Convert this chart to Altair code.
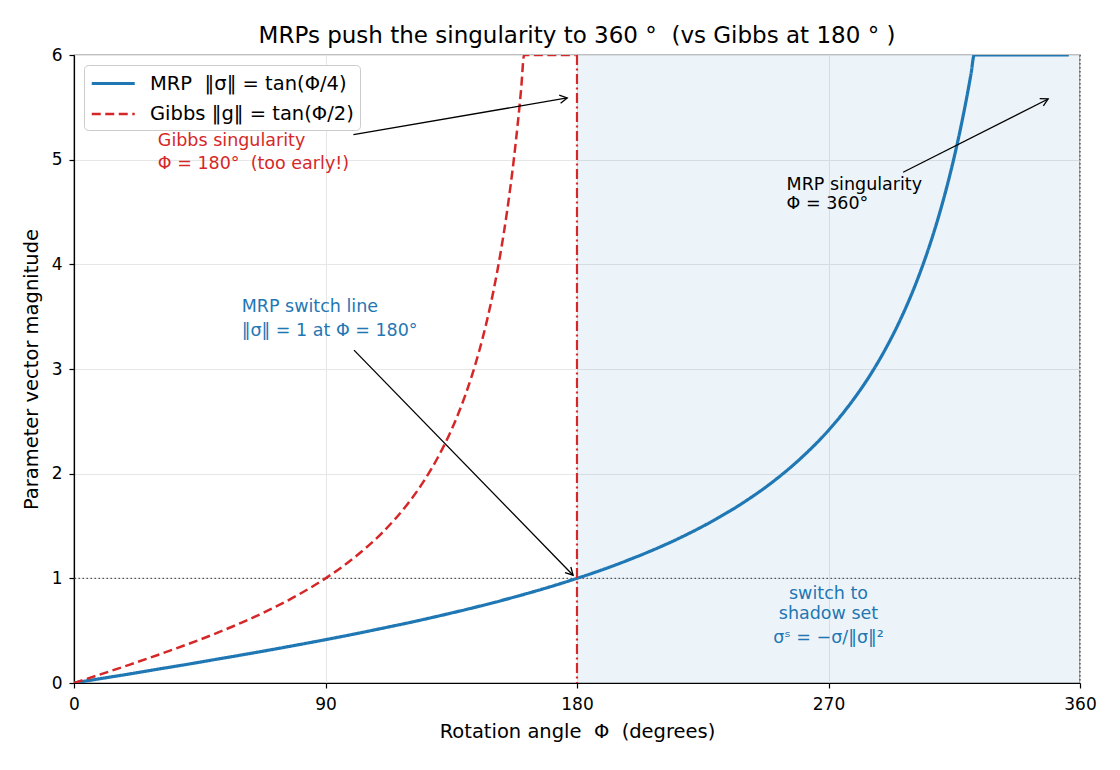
import math
import altair as alt
import pandas as pd

# ---- data -------------------------------------------------------------
# MRP magnitude |sigma| = tan(phi/4), clipped at the top of the axis (6)
mrp_phi = [0, 10, 20, 30, 40, 50, 60, 70, 80, 90, 100, 110, 120, 130, 140, 150,
           160, 170, 180, 190, 200, 210, 220, 230, 240, 250, 260, 270, 275, 280,
           285, 290, 295, 297.5, 300, 302.5, 305, 307.5, 310, 312.5, 315, 317.5,
           320, 321, 322.15, 356]
mrp_mag = [0.000, 0.044, 0.087, 0.132, 0.176, 0.222, 0.268, 0.315, 0.364, 0.414,
           0.466, 0.521, 0.577, 0.637, 0.700, 0.767, 0.839, 0.916, 1.000, 1.091,
           1.192, 1.303, 1.428, 1.570, 1.732, 1.921, 2.145, 2.414, 2.572, 2.748,
           2.946, 3.172, 3.431, 3.576, 3.732, 3.902, 4.087, 4.289, 4.511, 4.756,
           5.027, 5.330, 5.671, 5.820, 6.000, 6.000]

# Gibbs magnitude |g| = tan(phi/2), clipped at 6
gibbs_phi = [0, 10, 20, 30, 40, 50, 60, 70, 80, 90, 100, 110, 120, 125, 130, 135,
             137.5, 140, 142.5, 145, 147.5, 150, 152.5, 155, 157.5, 160, 161.08, 179.5]
gibbs_mag = [0.000, 0.087, 0.176, 0.268, 0.364, 0.466, 0.577, 0.700, 0.839, 1.000,
             1.192, 1.428, 1.732, 1.921, 2.145, 2.414, 2.572, 2.748, 2.946, 3.172,
             3.431, 3.732, 4.087, 4.511, 5.027, 5.671, 6.000, 6.000]

NB = "\u00a0"
MRP_LABEL = f"MRP{NB}{NB}\u2016\u03c3\u2016 = tan(\u03a6/4)"
GIBBS_LABEL = "Gibbs \u2016g\u2016 = tan(\u03a6/2)"

x_ticks = [0, 90, 180, 270, 360]
y_ticks = [0, 1, 2, 3, 4, 5, 6]

# annotation text lines: x, y, text, colour
ann_left = pd.DataFrame({
    "x": [30, 30, 255, 255, 60, 60],
    "y": [5.18, 4.96, 4.76, 4.58, 3.59, 3.36],
    "text": ["Gibbs singularity", f"\u03a6 = 180\u00b0{NB}{NB}(too early!)",
             "MRP singularity", "\u03a6 = 360\u00b0",
             "MRP switch line", "\u2016\u03c3\u2016 = 1 at \u03a6 = 180\u00b0"],
    "color": ["#d62728", "#d62728", "#000000", "#000000", "#1f77b4", "#1f77b4"],
})
ann_center = pd.DataFrame({
    "x": [270, 270, 270],
    "y": [0.85, 0.66, 0.43],
    "text": ["switch to", "shadow set", "\u03c3\u02e2 = \u2212\u03c3/\u2016\u03c3\u2016\u00b2"],
    "color": ["#1f77b4", "#1f77b4", "#1f77b4"],
})

# arrows: tail (x, y) -> head (x2, y2)
arrow_x = [100.0, 296.7, 100.2]
arrow_y = [5.24, 4.88, 3.18]
arrow_x2 = [176.5, 348.6, 178.6]
arrow_y2 = [5.59, 5.58, 1.03]

# ---- layout -----------------------------------------------------------
W, H = 1006, 628
FONT = "DejaVu Sans"

px_deg = W / 360.0
px_unit = H / 6.0
angles = [math.degrees(math.atan2((x2 - x1) * px_deg, (y2 - y1) * px_unit)) % 360
          for x1, y1, x2, y2 in zip(arrow_x, arrow_y, arrow_x2, arrow_y2)]
arrows = pd.DataFrame({"x": arrow_x, "y": arrow_y, "x2": arrow_x2,
                       "y2": arrow_y2, "angle": angles})

curves = pd.concat([
    pd.DataFrame({"phi": mrp_phi, "mag": mrp_mag, "series": MRP_LABEL, "order": range(len(mrp_phi))}),
    pd.DataFrame({"phi": gibbs_phi, "mag": gibbs_mag, "series": GIBBS_LABEL, "order": range(len(gibbs_phi))}),
])

xscale = alt.Scale(domain=[0, 360], nice=False, zero=False)
yscale = alt.Scale(domain=[0, 6], nice=False)

xenc = alt.X("phi:Q", scale=xscale,
             axis=alt.Axis(values=x_ticks, title=f"Rotation angle{NB}{NB}\u03a6{NB}{NB}(degrees)", format="d"))
yenc = alt.Y("mag:Q", scale=yscale,
             axis=alt.Axis(values=y_ticks, title="Parameter vector magnitude", format="d"))

shade = alt.Chart(pd.DataFrame({"phi": [180], "phi2": [360], "mag": [0], "mag2": [6]})).mark_rect(
    color="#1f77b4", opacity=0.08
).encode(x=xenc, x2="phi2:Q", y=yenc, y2="mag2:Q")

hline = alt.Chart(pd.DataFrame({"mag": [1]})).mark_rule(
    color="#555555", strokeDash=[1.5, 2.5], strokeWidth=1.1
).encode(y=alt.Y("mag:Q", scale=yscale))

vline360 = alt.Chart(pd.DataFrame({"phi": [360]})).mark_rule(
    color="#333333", strokeDash=[1.5, 2.5], strokeWidth=1.1
).encode(x=alt.X("phi:Q", scale=xscale))

lines = alt.Chart(curves).mark_line(interpolate="monotone", clip=True).encode(
    x=xenc, y=yenc, order="order:Q",
    color=alt.Color("series:N",
                    scale=alt.Scale(domain=[MRP_LABEL, GIBBS_LABEL], range=["#1f77b4", "#d62728"]),
                    legend=alt.Legend(title=None)),
    strokeDash=alt.StrokeDash("series:N",
                              scale=alt.Scale(domain=[MRP_LABEL, GIBBS_LABEL], range=[[1, 0], [9, 4.5]]),
                              legend=alt.Legend(title=None)),
    strokeWidth=alt.StrokeWidth("series:N",
                                scale=alt.Scale(domain=[MRP_LABEL, GIBBS_LABEL], range=[3.2, 2.5]),
                                legend=None),
)

vline180 = alt.Chart(pd.DataFrame({"phi": [180]})).mark_rule(
    color="#d62728", strokeDash=[10, 3.5, 2, 3.5], strokeWidth=2.2
).encode(x=alt.X("phi:Q", scale=xscale))

arrow_shafts = alt.Chart(arrows).mark_rule(color="black", strokeWidth=1.3).encode(
    x=alt.X("x:Q", scale=xscale), y=alt.Y("y:Q", scale=yscale), x2="x2:Q", y2="y2:Q"
)
arrow_heads = alt.Chart(arrows).mark_point(
    shape="M -0.55 1 L 0 0 L 0.55 1", filled=False, color="black", strokeWidth=1.3,
    size=220, opacity=1
).encode(x=alt.X("x2:Q", scale=xscale), y=alt.Y("y2:Q", scale=yscale), angle=alt.Angle("angle:Q", scale=None))

text_left = alt.Chart(ann_left).mark_text(
    align="left", baseline="middle", font=FONT, fontSize=17.5
).encode(x=alt.X("x:Q", scale=xscale), y=alt.Y("y:Q", scale=yscale),
         text="text:N", color=alt.Color("color:N", scale=None))

text_center = alt.Chart(ann_center).mark_text(
    align="center", baseline="middle", font=FONT, fontSize=17.5
).encode(x=alt.X("x:Q", scale=xscale), y=alt.Y("y:Q", scale=yscale),
         text="text:N", color=alt.Color("color:N", scale=None))

chart = alt.layer(
    shade, hline, vline360, lines, vline180, arrow_shafts, arrow_heads, text_left, text_center
).properties(
    width=W, height=H,
    title=alt.TitleParams(f"MRPs push the singularity to 360{NB}\u00b0{NB}{NB}(vs Gibbs at 180{NB}\u00b0{NB})",
                          font=FONT, fontSize=23, fontWeight="normal", color="black",
                          anchor="middle", offset=-2),
    autosize=alt.AutoSizeParams(type="none"),
    padding={"left": 74, "top": 55, "right": 40, "bottom": 87},
).configure_view(
    stroke="black", strokeWidth=1.2
).configure_axis(
    labelFont=FONT, labelFontSize=17, labelColor="black", labelFlush=False,
    titleFont=FONT, titleFontSize=19.5, titleFontWeight="normal", titleColor="black",
    domainColor="black", domainWidth=1.2, tickColor="black", tickSize=5, tickWidth=1.2,
    gridColor="#e6e6e6", gridWidth=1,
).configure_axisX(labelPadding=8, titlePadding=10).configure_axisY(
    labelPadding=7, titlePadding=10
).configure_legend(
    orient="top-left", offset=10, fillColor="white", strokeColor="#cccccc",
    cornerRadius=4, padding=6, symbolType="M -1 0 L 3 0", symbolSize=462,
    symbolStrokeWidth=3, labelFont=FONT, labelFontSize=19.5, labelColor="black",
    labelOffset=35, rowPadding=9, labelLimit=0,
)

chart.save("out.html", embed_options={"renderer": "svg", "actions": False})
